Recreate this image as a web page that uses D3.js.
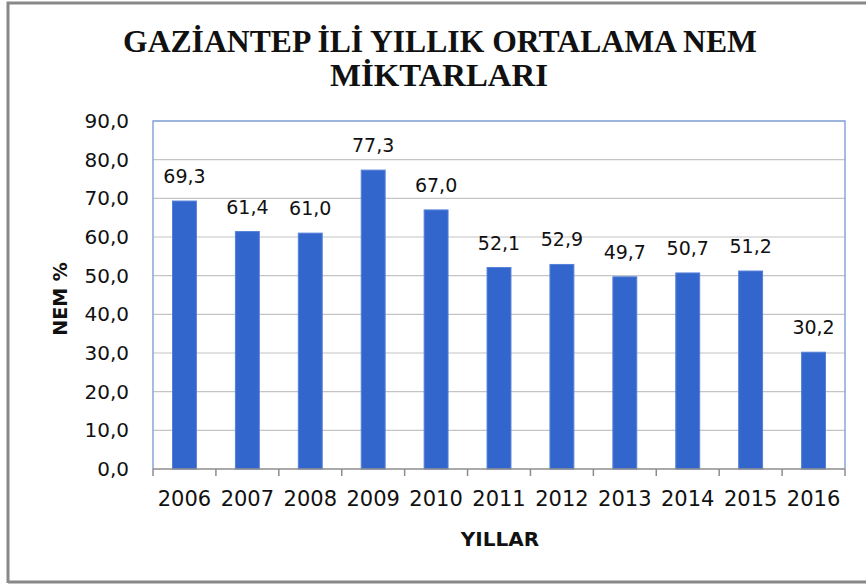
<!DOCTYPE html>
<html>
  <head>
    <meta charset="utf-8">
    <title>Gaziantep nem</title>
    <style>
      body { margin: 0; background: #fff; }
      text { font-family: "DejaVu Sans", Verdana, sans-serif; fill: #111; }
      .title { font-family: "Liberation Serif", "Times New Roman", serif; font-weight: bold; font-size: 31px; }
    </style>
    <script src="https://cdnjs.cloudflare.com/ajax/libs/d3/7.8.5/d3.min.js"></script>
  </head>
  <body>
    <div id="chart"></div>
    <script>
    var years = ['2006','2007','2008','2009','2010','2011','2012','2013','2014','2015','2016'];
    var nem = [69.3, 61.4, 61.0, 77.3, 67.0, 52.1, 52.9, 49.7, 50.7, 51.2, 30.2];
    var yTicks = [0,10,20,30,40,50,60,70,80,90];

    var w = 866, h = 585;
    var pLeft = 153, pRight = 845, pTop = 121, pBottom = 469;
    var fmt = function(v) { return v.toFixed(1).replace('.', ','); };

    var svg = d3.select('#chart').append('svg').attr('width', w).attr('height', h);

    // outer frame (right side runs off the picture)
    svg.append('path').attr('d', 'M8,583 L8,3 L870,3 M8,582 L870,582')
       .style('fill','none').style('stroke','#888').style('stroke-width',3);

    svg.append('text').attr('class','title').attr('x',440).attr('y',52)
       .attr('text-anchor','middle').attr('textLength',634).attr('lengthAdjust','spacingAndGlyphs')
       .text('GAZİANTEP İLİ YILLIK ORTALAMA NEM');
    svg.append('text').attr('class','title').attr('x',439).attr('y',86)
       .attr('text-anchor','middle').attr('textLength',218).attr('lengthAdjust','spacingAndGlyphs')
       .text('MİKTARLARI');

    var x = d3.scaleBand().domain(years).range([pLeft, pRight]).paddingInner(0.62).paddingOuter(0.31);
    var y = d3.scaleLinear().domain([0, 90]).range([pBottom, pTop]);

    // gridlines
    svg.append('g').selectAll('line').data(yTicks.slice(1)).enter().append('line')
       .attr('x1', pLeft).attr('x2', pRight)
       .attr('y1', function(d){ return y(d); }).attr('y2', function(d){ return y(d); })
       .style('stroke','#c4c4c4').style('stroke-width',1.2);

    // plot border
    svg.append('path').attr('d', 'M'+pLeft+','+pBottom+' L'+pLeft+','+pTop+' L'+pRight+','+pTop+' L'+pRight+','+pBottom)
       .style('fill','none').style('stroke','#86a5dc').style('stroke-width',1.5);

    // bars
    svg.append('g').selectAll('rect').data(nem).enter().append('rect')
       .attr('x', function(d,i){ return x(years[i]); })
       .attr('width', x.bandwidth())
       .attr('y', function(d){ return y(d); })
       .attr('height', function(d){ return y(0) - y(d); })
       .style('fill','#3366cc').style('stroke','#5580d8').style('stroke-width',1);

    svg.append('g').selectAll('text').data(nem).enter().append('text')
       .attr('x', function(d,i){ return x(years[i]) + x.bandwidth()/2; })
       .attr('y', function(d){ return y(d) - 18; })
       .attr('text-anchor','middle').style('font-size','19px')
       .text(fmt);

    // y axis
    var yAxis = d3.axisLeft(y).tickValues(yTicks).tickSize(0).tickPadding(24).tickFormat(fmt);
    var ya = svg.append('g').attr('transform','translate('+pLeft+',0)').call(yAxis);
    ya.select('.domain').remove();
    ya.selectAll('text').style('font-size','20px').style('fill','#111').style('font-family','"DejaVu Sans", Verdana, sans-serif');

    // x axis
    var xAxis = d3.axisBottom(x).tickSize(0).tickPadding(22);
    var xa = svg.append('g').attr('transform','translate(0,'+pBottom+')').call(xAxis);
    xa.select('.domain').remove();
    xa.selectAll('text').style('font-size','21px').style('fill','#111').style('font-family','"DejaVu Sans", Verdana, sans-serif');

    var bounds = d3.range(years.length + 1).map(function(i){ return pLeft + i * (pRight - pLeft) / years.length; });
    svg.append('line').attr('x1',pLeft).attr('x2',pRight).attr('y1',pBottom).attr('y2',pBottom)
       .style('stroke','#8c8c8c').style('stroke-width',1.5);
    svg.append('g').selectAll('line').data(bounds).enter().append('line')
       .attr('x1', function(d){ return d; }).attr('x2', function(d){ return d; })
       .attr('y1', pBottom).attr('y2', pBottom + 7)
       .style('stroke','#8c8c8c').style('stroke-width',1.5);

    // axis titles
    svg.append('text').attr('transform','translate(67,299) rotate(-90)')
       .attr('text-anchor','middle').style('font-weight','bold').style('font-size','19px')
       .text('NEM %');
    svg.append('text').attr('x',500).attr('y',546)
       .attr('text-anchor','middle').style('font-weight','bold').style('font-size','20px')
       .text('YILLAR');
    </script>
  </body>
</html>
